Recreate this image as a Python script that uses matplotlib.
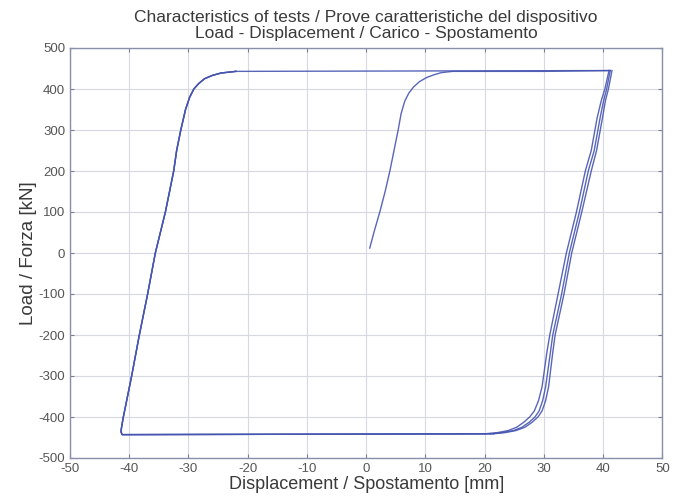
import numpy as np
import matplotlib
matplotlib.use("Agg")
import matplotlib.pyplot as plt

plt.rcParams['font.family'] = ['Liberation Sans', 'DejaVu Sans']
plt.rcParams['axes.unicode_minus'] = False

# first loading from zero
init_x = [0.6, 1.4, 2.3, 3.2, 4.0, 4.7, 5.4, 5.9, 6.5, 7.2, 8.0, 9.0, 10.2, 11.5, 12.7, 14.6, 20.0, 30.0, 41.2]
init_y = [12, 55, 100, 150, 200, 250, 300, 340, 370, 390, 405, 418, 428, 435, 440, 443, 443, 443, 445]

# right branch (unloading), three cycles
right_y = [445, 400, 372, 330, 250, 200, 100, 0, -100, -200, -243, -326, -360, -385,
           -400, -413, -425, -433, -438, -441]
right_x1 = [41.2, 40.6, 40.1, 39.5, 38.5, 37.5, 36.0, 34.3, 33.0, 31.5, 31.1, 30.3, 29.8, 29.2,
            28.5, 27.5, 26.3, 24.9, 23.0, 21.0]
right_x2 = [41.0, 40.3, 39.7, 39.0, 38.0, 37.0, 35.5, 33.8, 32.4, 31.0, 30.5, 29.7, 29.1, 28.4,
            27.6, 26.6, 25.4, 24.0, 22.2, 20.0]
right_x3 = [41.5, 40.9, 40.4, 39.9, 38.9, 38.0, 36.4, 34.7, 33.4, 31.9, 31.5, 30.8, 30.3, 29.7,
            29.0, 28.0, 26.8, 25.3, 23.5, 21.5]

# left branch (reloading)
left_y = [-443, -436, -425, -400, -300, -200, -100, 0, 100, 200, 250, 300, 350, 380, 400,
          413, 425, 433, 439, 443]
left_x = [-41.2, -41.4, -41.3, -41.0, -39.6, -38.3, -36.9, -35.6, -33.9, -32.5, -32.0, -31.3,
          -30.5, -29.8, -29.1, -28.3, -27.3, -26.0, -24.5, -22.0]

fig = plt.figure(figsize=(6.8, 5.0), dpi=100)
ax = fig.add_axes([0.103, 0.084, 0.871, 0.82])

line_kw = dict(color='#4655b0', lw=1.0, alpha=0.9)
ax.plot(init_x, init_y, **line_kw)
for rx in [right_x1, right_x2, right_x3]:
    ax.plot(rx, right_y, **line_kw)
    ax.plot([rx[-1]] + left_x, [right_y[-1]] + left_y, **line_kw)
# top plateau back to the peak
ax.plot([left_x[-1], 41.2], [left_y[-1], 445], **line_kw)

ax.set_xlim(-50, 50)
ax.set_ylim(-500, 500)
ax.set_xticks(np.arange(-50, 51, 10))
ax.set_yticks(np.arange(-500, 501, 100))
ax.grid(True, color='#d6d8e2', lw=0.8)
ax.set_axisbelow(True)
ax.tick_params(direction='in', top=True, right=True, labelsize=9.5, colors='#7a7f98',
               labelcolor='#555555', length=3)
for s in ax.spines.values():
    s.set_color('#8a90aa')
    s.set_linewidth(1.0)

ax.set_title('Characteristics of tests / Prove caratteristiche del dispositivo\n'
             'Load - Displacement / Carico - Spostamento',
             fontsize=12.5, color='#3a3a3a', pad=7, linespacing=1.1)
ax.set_xlabel('Displacement / Spostamento [mm]', fontsize=13, color='#3a3a3a', labelpad=1)
ax.set_ylabel('Load / Forza [kN]', fontsize=13.5, color='#3a3a3a', labelpad=1)

fig.savefig('out.png', dpi=100)
